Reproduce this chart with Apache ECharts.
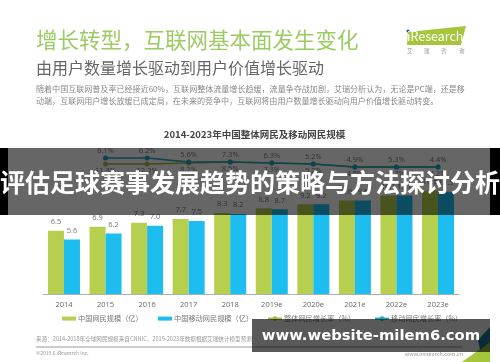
<!DOCTYPE html>
<html>
<head>
<meta charset="utf-8">
<style>
    html, body { margin: 0; padding: 0; background: #fff; }
    #main { width: 500px; height: 362px; }
</style>
<script src="https://cdn.jsdelivr.net/npm/echarts@6/dist/echarts.min.js"></script>
</head>
<body>
<div id="main"></div>
<script>
const years = ['2014', '2015', '2016', '2017', '2018', '2019e', '2020e', '2021e', '2022e', '2023e'];
const netUsers = [6.5, 6.9, 7.3, 7.7, 8.3, 8.8, 9.2, 9.6, 10.1, 10.6];
const mobileUsers = [5.6, 6.2, 7.0, 7.5, 8.2, 8.7, 9.2, 9.6, 10.1, 10.5];
// the growth lines are not to scale in the picture, so height and printed label are kept apart
const netRateLabels = [null, '11.3%', '12.2%', '8.2%', '8.5%', '7.1%', '5.2%', '4.5%', '4.3%', '4.2%'];
const mobileRateLabels = [null, '6.1%', '6.2%', '5.6%', '7.3%', '6.3%', '5.2%', '4.9%', '5.3%', '4.4%'];
const netRateHeight = [null, 16, 16, 17, 18, 17, 16, 13, 13, 13];
const mobileRateHeight = [null, 22, 22, 18, 18, 17, 16, 13, 13, 13];

const font = '"Noto Sans CJK SC", "Open Sans", sans-serif';
const fontLatin = '"Open Sans", "Noto Sans CJK SC", sans-serif';

function text(str, x, y, size, fill, weight, align, z) {
    return {
        type: 'text',
        z: z || 1,
        style: {
            text: str, x: x, y: y, fill: fill,
            font: (weight || 'normal') + ' ' + size + 'px ' + font,
            textAlign: align || 'left', textVerticalAlign: 'middle'
        }
    };
}

function band(x, y, width, height, fill) {
    return { type: 'rect', z: 100, shape: { x: x, y: y, width: width, height: height }, style: { fill: fill } };
}

// one legend per entry, the gaps in the picture are uneven
function legendItem(name, left, icon) {
    return {
        left: left,
        top: 310,
        itemWidth: 14,
        itemHeight: icon ? 4 : 6,
        textStyle: { fontSize: 7.2, color: '#777', fontFamily: font, padding: [0, 0, 0, -3] },
        data: [icon ? { name: name, icon: icon } : { name: name }]
    };
}

var myChart = echarts.init(document.getElementById('main'), null, { renderer: 'canvas' });

var option = {
    animation: false,
    backgroundColor: '#fff',
    legend: [
        legendItem('中国网民规模（亿）', 57, 'rect'),
        legendItem('中国移动网民规模（亿）', 153, 'rect'),
        legendItem('整体网民增长率（%）', 262),
        legendItem('移动网民增长率（%）', 369)
    ],
    grid: [
        { left: 43.2, right: 41.2, top: 177, height: 117 },
        { left: 43.2, right: 41.2, top: 140, height: 40 }
    ],
    xAxis: [
        {
            type: 'category', gridIndex: 0, data: years,
            axisTick: { show: false },
            axisLine: { lineStyle: { color: '#aab0b0', width: 1 } },
            axisLabel: { fontSize: 7.5, color: '#666', fontFamily: fontLatin, margin: 7 }
        },
        { type: 'category', gridIndex: 1, data: years, show: false }
    ],
    yAxis: [
        { type: 'value', gridIndex: 0, min: 0, max: 12, show: false },
        { type: 'value', gridIndex: 1, min: 0, max: 40, show: false }
    ],
    series: [
        {
            name: '中国网民规模（亿）', type: 'bar', data: netUsers, barWidth: 16, barGap: 0,
            itemStyle: { color: '#b7cf4f' },
            label: {
                show: true, position: 'top', distance: 5, fontSize: 7.5, color: '#777', fontFamily: fontLatin,
                formatter: p => p.value.toFixed(1)
            }
        },
        {
            name: '中国移动网民规模（亿）', type: 'bar', data: mobileUsers, barWidth: 16,
            itemStyle: { color: '#1dbdef' },
            label: {
                show: true, position: 'top', distance: 5, fontSize: 7.5, color: '#777', fontFamily: fontLatin,
                formatter: p => p.value.toFixed(1)
            }
        },
        {
            name: '整体网民增长率（%）', type: 'line', xAxisIndex: 1, yAxisIndex: 1, data: netRateHeight,
            symbol: 'circle', symbolSize: 5,
            lineStyle: { color: '#a9bb3f', width: 1.5 }, itemStyle: { color: '#a9bb3f' },
            label: {
                show: true, position: 'bottom', distance: 1, fontSize: 7.5, color: '#777', fontFamily: fontLatin,
                formatter: p => netRateLabels[p.dataIndex]
            }
        },
        {
            name: '移动网民增长率（%）', type: 'line', xAxisIndex: 1, yAxisIndex: 1, data: mobileRateHeight,
            symbol: 'circle', symbolSize: 5,
            lineStyle: { color: '#18a8c8', width: 1.5 }, itemStyle: { color: '#18a8c8' },
            label: {
                show: true, position: 'top', distance: 1, fontSize: 7.5, color: '#777', fontFamily: fontLatin,
                formatter: p => mobileRateLabels[p.dataIndex]
            }
        }
    ],
    graphic: [
        text('增长转型，互联网基本面发生变化', 36, 40, 21.5, '#9ccb62'),
        text('由用户数量增长驱动到用户价值增长驱动', 36, 68, 16, '#666'),
        text('随着中国互联网普及率已经接近60%，互联网整体流量增长趋缓，流量争夺战加剧，艾瑞分析认为，无论是PC端，还是移', 36, 89, 8.05, '#888'),
        text('动端，互联网用户增长放缓已成定局，在未来的竞争中，互联网将由用户数量增长驱动向用户价值增长驱动转变。', 36, 101, 8.05, '#888'),
        text('2014-2023年中国整体网民及移动网民规模', 254.5, 134, 9.5, '#444', 'bold', 'center'),
        // logo
        { type: 'polygon', shape: { points: [[408, 32], [466, 26], [461, 45], [407, 45]] }, style: { fill: '#a5c63b' } },
        { type: 'circle', shape: { cx: 408, cy: 31, r: 1.5 }, style: { fill: '#1f4e8c' } },
        text('iResearch', 407, 36, 12.5, '#fff'),
        text('艾', 407, 51, 5.5, '#999'),
        text('瑞', 424, 51, 5.5, '#999'),
        text('咨', 441, 51, 5.5, '#999'),
        text('询', 459, 51, 5.5, '#999'),
        // footer
        text('来源：2014-2018年全球网民规模来自CNNIC，2019-2023年数据根据艾瑞统计模型预测', 36, 339, 5.6, '#999'),
        { type: 'line', shape: { x1: 36, y1: 347, x2: 462, y2: 347 }, style: { stroke: '#999', lineWidth: 1 } },
        text('©2019.6 iResearch Inc.', 36, 353, 5, '#999'),
        text('www.iresearch.com.cn', 463, 354, 5.5, '#999', 'normal', 'right'),
        { type: 'polygon', shape: { points: [[462, 362], [490, 342], [490, 362]] }, style: { fill: '#a5c63b' } },
        { type: 'polygon', shape: { points: [[478, 340], [490, 327], [490, 342], [480, 350]] }, style: { fill: '#1a7fa0' } },
        // overlays
        band(8, 148, 482, 67, 'rgba(0,0,0,0.6)'),
        band(0, 148, 8, 67, '#000'),
        band(490, 148, 10, 67, '#000'),
        band(252, 319, 238, 33, 'rgba(0,0,0,0.65)'),
        text('评估足球赛事发展趋势的策略与方法探讨分析', 250, 182, 25, '#fff', 'bold', 'center', 101),
        {
            type: 'text', z: 101,
            style: {
                text: 'www.website-milem6.com', x: 371, y: 336, fill: '#fff',
                font: 'bold 14.8px "DejaVu Sans", sans-serif', textAlign: 'center', textVerticalAlign: 'middle'
            }
        }
    ]
};
option && myChart.setOption(option);
</script>
</body>
</html>
